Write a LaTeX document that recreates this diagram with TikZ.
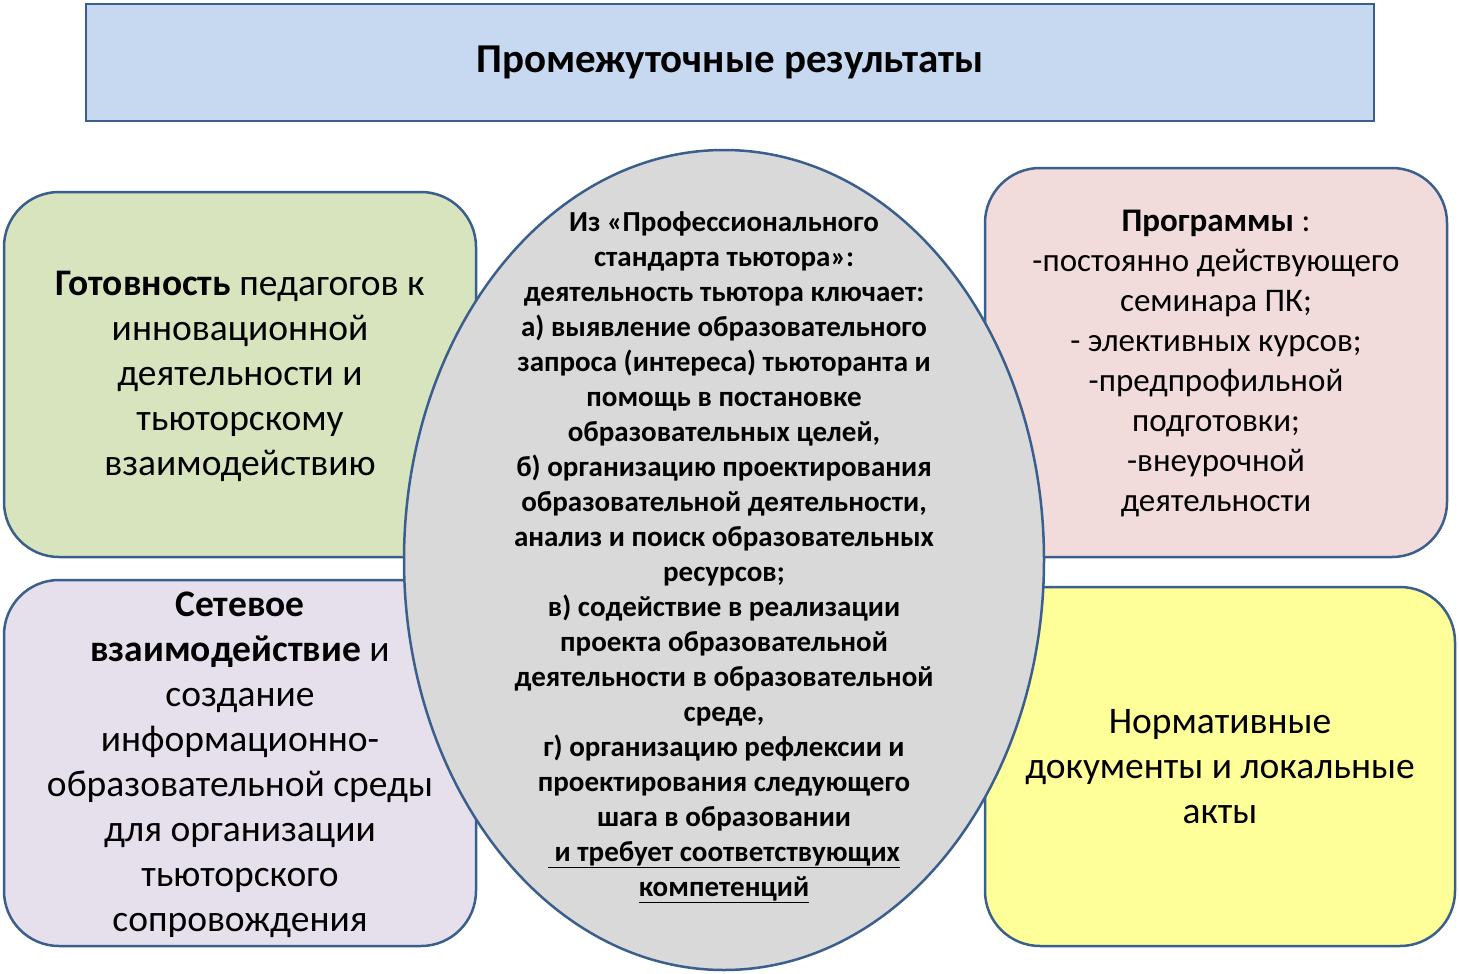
\documentclass[tikz,border=0pt]{standalone}
\usepackage{fontspec}
\setmainfont{Carlito}
\definecolor{bordc}{HTML}{3A5F8C}
\definecolor{cTitle}{HTML}{C6D9F1}
\definecolor{cGreen}{HTML}{D7E4BD}
\definecolor{cLilac}{HTML}{E5E0EC}
\definecolor{cPink}{HTML}{F2DCDB}
\definecolor{cYellow}{HTML}{FFFF99}
\definecolor{cGray}{HTML}{D9D9D9}
\begin{document}
\begin{tikzpicture}[x=1pt,y=-1pt,
  box/.style={draw=bordc,line width=2.5pt,rounded corners=55pt},
  txt/.style={align=center,inner sep=0pt}]
\useasboundingbox (0,0) rectangle (1459,974);
\draw[draw=bordc,line width=2.5pt,fill=cTitle] (86,4) rectangle (1374,121) node[midway,font=\fontsize{41}{45}\selectfont\bfseries] (title) {Промежуточные результаты};
\draw[box,fill=cGreen] (4,192) rectangle (476,557);
\draw[box,fill=cLilac] (4,580) rectangle (476,946);
\draw[box,fill=cPink] (985,168) rectangle (1447,557);
\draw[box,fill=cYellow] (985,587) rectangle (1455,946);
\draw[draw=bordc,line width=2.5pt,fill=cGray] (724,560) ellipse [x radius=320, y radius=410];
\node[txt,font=\fontsize{37.5}{45}\selectfont] (gt) at (240,376) {\textbf{Готовность} педагогов к\\инновационной\\деятельности и\\тьюторскому\\взаимодействию};
\node[txt,font=\fontsize{37.5}{45}\selectfont] (sv) at (240,765) {\textbf{Сетевое}\\\textbf{взаимодействие} и\\создание\\информационно-\\образовательной среды\\для организации\\тьюторского\\сопровождения};
\node[txt,font=\fontsize{33}{40}\selectfont] (pr) at (1216,364) {\textbf{Программы} :\\-постоянно действующего\\семинара ПК;\\- элективных курсов;\\-предпрофильной\\подготовки;\\-внеурочной\\деятельности};
\node[txt,font=\fontsize{37.5}{45}\selectfont] (nd) at (1220,767) {Нормативные\\документы и локальные\\акты};
\node[txt,font=\fontsize{29}{35}\selectfont\bfseries] (el) at (724,557) {Из «Профессионального\\стандарта тьютора»:\\деятельность тьютора ключает:\\а) выявление образовательного\\запроса (интереса) тьюторанта и\\помощь в постановке\\образовательных целей,\\б) организацию проектирования\\образовательной деятельности,\\анализ и поиск образовательных\\ресурсов;\\в) содействие в реализации\\проекта образовательной\\деятельности в образовательной\\среде,\\г) организацию рефлексии и\\проектирования следующего\\шага в образовании\\\underline{ и требует соответствующих}\\\underline{компетенций}};
\end{tikzpicture}
\end{document}
